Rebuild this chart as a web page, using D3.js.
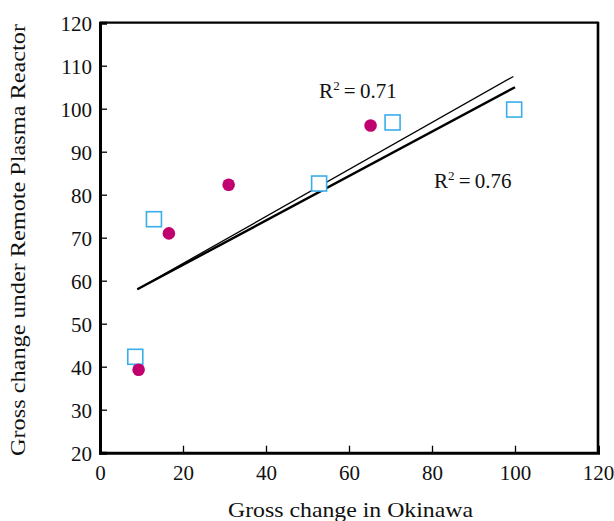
<!DOCTYPE html>
<html><head><meta charset="utf-8">
<script src="https://cdn.jsdelivr.net/npm/d3@7"></script>
<style>body{margin:0;background:#fff}svg{display:block}svg text{font-family:"Liberation Serif","DejaVu Serif",serif !important;}</style>
</head><body>
<svg id="c" width="614" height="521"></svg>
<script>
const xTicks = [0,20,40,60,80,100,120];
const yTicks = [20,30,40,50,60,70,80,90,100,110,120];
const squaresX = [8.5, 13, 52.8, 70.5, 99.8];
const squaresY = [42.3, 74.3, 82.6, 96.8, 99.8];
const circlesX = [9.3, 16.6, 31, 65.2];
const circlesY = [39.3, 71, 82.3, 96.1];
const fitThinX = [9, 99.6];
const fitThinY = [58, 107.5];
const fitThickX = [9, 100];
const fitThickY = [58, 105];
const labels = [{t:"0.71", x:52.8, y:102.6},{t:"0.76", x:80.5, y:81.6}];

const svg = d3.select("#c");
const L=100, R=598, T=22.7, B=452.7;
const x = d3.scaleLinear().domain([0,120]).range([L,R]);
const y = d3.scaleLinear().domain([20,120]).range([B,T]);
const font = "Liberation Serif";

// frame
svg.append("line").attr("x1",L).attr("x2",R).attr("y1",T).attr("y2",T).attr("stroke","#000").attr("stroke-width",2.2);
svg.append("line").attr("x1",R).attr("x2",R).attr("y1",T-1).attr("y2",B).attr("stroke","#000").attr("stroke-width",2.6);

const xa = svg.append("g").attr("transform",`translate(0,${B})`)
  .call(d3.axisBottom(x).tickValues(xTicks).tickSize(-7).tickPadding(12).tickFormat(d3.format("d")));
const ya = svg.append("g").attr("transform",`translate(${L},0)`)
  .call(d3.axisLeft(y).tickValues(yTicks).tickSize(-7).tickPadding(8).tickFormat(d3.format("d")));
[xa,ya].forEach(a=>{
  a.attr("font-family",font).attr("font-size",21);
  a.select(".domain").attr("stroke","#000").attr("stroke-width",3);
  a.selectAll(".tick line").attr("stroke","#000").attr("stroke-width",1.3);
  a.selectAll(".tick text").attr("fill","#111");
});
xa.selectAll(".tick text").attr("dy","0.71em");
ya.selectAll(".tick text").attr("dy","0.36em");
xa.selectAll(".tick").filter(d=>d===0||d===120).select("line").remove();
ya.selectAll(".tick").filter(d=>d===20||d===120).select("line").remove();

// fit lines
const line = d3.line().x(d=>x(d[0])).y(d=>y(d[1]));
svg.append("path").attr("d",line(d3.zip(fitThinX,fitThinY))).attr("fill","none").attr("stroke","#000").attr("stroke-width",1.3);
svg.append("path").attr("d",line(d3.zip(fitThickX,fitThickY))).attr("fill","none").attr("stroke","#000").attr("stroke-width",2.4);

// squares
const s=15;
svg.selectAll("rect.sq").data(d3.zip(squaresX,squaresY)).join("rect").attr("class","sq")
  .attr("x",d=>x(d[0])-s/2).attr("y",d=>y(d[1])-s/2).attr("width",s).attr("height",s)
  .attr("fill","#fff").attr("stroke","#3aaee9").attr("stroke-width",1.6);
// circles
svg.selectAll("circle.ci").data(d3.zip(circlesX,circlesY)).join("circle").attr("class","ci")
  .attr("cx",d=>x(d[0])).attr("cy",d=>y(d[1])).attr("r",6.3).attr("fill","#c1006f");

// R2 labels
labels.forEach(l=>{
  const t = svg.append("text").attr("x",x(l.x)).attr("y",y(l.y)).attr("font-family",font).attr("font-size",21).attr("fill","#111");
  t.append("tspan").text("R");
  t.append("tspan").text("2").attr("dy",-8).attr("font-size",13);
  t.append("tspan").text("\u2009=\u2009" + l.t).attr("dy",8);
});

// axis titles
svg.append("text").attr("x",(228+473)/2).attr("y",517).attr("text-anchor","middle")
  .attr("font-family",font).attr("font-size",21).attr("fill","#111")
  .attr("textLength",245).attr("lengthAdjust","spacingAndGlyphs").text("Gross change in Okinawa");
svg.append("text").attr("transform","translate(25,240) rotate(-90)").attr("text-anchor","middle")
  .attr("font-family",font).attr("font-size",21).attr("fill","#111")
  .attr("textLength",432).attr("lengthAdjust","spacingAndGlyphs").text("Gross change under Remote Plasma Reactor");
</script>
</body></html>
